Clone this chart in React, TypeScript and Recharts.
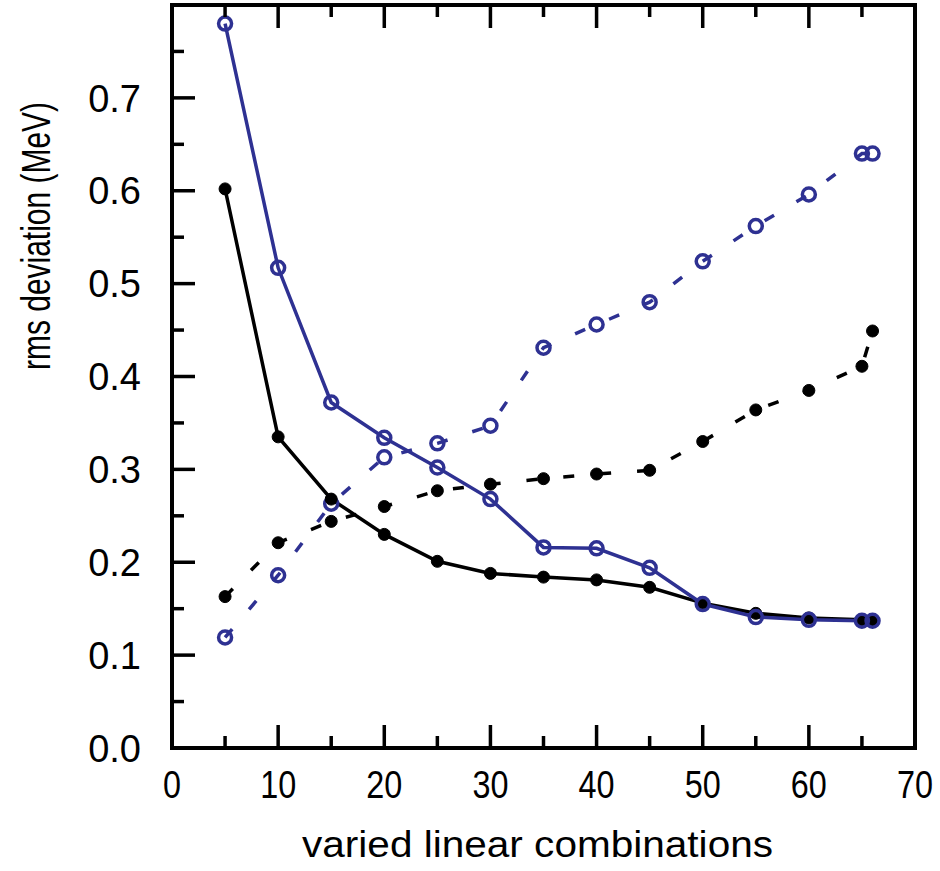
import React from 'react';
import { LineChart, Line, XAxis, YAxis, Label } from 'recharts';

const xValues = [5, 10, 15, 20, 25, 30, 35, 40, 45, 50, 55, 60, 65, 66];
const blackSolid = [0.602, 0.335, 0.268, 0.230, 0.201, 0.188, 0.184, 0.181, 0.173, 0.156, 0.145, 0.140, 0.138, 0.137];
const blueSolid = [0.780, 0.517, 0.372, 0.334, 0.302, 0.268, 0.216, 0.215, 0.194, 0.155, 0.141, 0.138, 0.137, 0.137];
const blackDashed = [0.163, 0.221, 0.244, 0.260, 0.277, 0.284, 0.290, 0.295, 0.299, 0.330, 0.364, 0.385, 0.411, 0.449];
const blueDashed = [0.119, 0.186, 0.263, 0.313, 0.328, 0.347, 0.431, 0.456, 0.480, 0.524, 0.562, 0.596, 0.640, 0.640];

const xTicks = [0, 5, 10, 15, 20, 25, 30, 35, 40, 45, 50, 55, 60, 65, 70];
const xTickLabels = [0, 10, 20, 30, 40, 50, 60, 70];
const yTicks = [0, 0.05, 0.1, 0.15, 0.2, 0.25, 0.3, 0.35, 0.4, 0.45, 0.5, 0.55, 0.6, 0.65, 0.7, 0.75, 0.8];
const yTickLabels = ['0.0', '0.1', '0.2', '0.3', '0.4', '0.5', '0.6', '0.7'];

const xTitle = 'varied linear combinations';
const yTitle = 'rms deviation (MeV)';

const data = xValues.map((x, i) => ({
  x,
  blackSolid: blackSolid[i],
  blueSolid: blueSolid[i],
  blackDashed: blackDashed[i],
  blueDashed: blueDashed[i],
}));

const BLUE = '#2E3192';
const FONT = '"Liberation Sans", Arial, Helvetica, sans-serif';
const MAJOR = 23;
const MINOR = 12;
const TICK_W = 3.5;

const isMajorX = (v: number) => v % 10 === 0;
const isMajorY = (v: number) => Math.abs(v * 10 - Math.round(v * 10)) < 1e-6;
const yLabelFor = (v: number) => {
  const idx = Math.round(v * 10);
  if (!isMajorY(v)) return null;
  return yTickLabels[idx] ?? null;
};

const BottomTick = (props: any) => {
  const { x, y, payload } = props;
  const v = payload.value;
  const major = isMajorX(v);
  return (
    <g>
      <line x1={x} x2={x} y1={y} y2={y - (major ? MAJOR : MINOR)} stroke="#000" strokeWidth={TICK_W} />
      {major && xTickLabels.includes(v) && (
        <text x={x} y={y + 50} textAnchor="middle" fontSize={39} fontFamily={FONT} fill="#000"
          textLength={String(v).length * 18} lengthAdjust="spacingAndGlyphs">
          {String(v)}
        </text>
      )}
    </g>
  );
};

const TopTick = (props: any) => {
  const { x, y, payload } = props;
  const major = isMajorX(payload.value);
  return <line x1={x} x2={x} y1={y} y2={y + (major ? MAJOR : MINOR)} stroke="#000" strokeWidth={TICK_W} />;
};

const LeftTick = (props: any) => {
  const { x, y, payload } = props;
  const v = payload.value;
  const major = isMajorY(v);
  const lab = yLabelFor(v);
  return (
    <g>
      <line x1={x} x2={x + (major ? MAJOR : MINOR)} y1={y} y2={y} stroke="#000" strokeWidth={TICK_W} />
      {lab && (
        <text x={x - 31} y={y} dy="0.36em" textAnchor="end" fontSize={38} fontFamily={FONT} fill="#000">
          {lab}
        </text>
      )}
    </g>
  );
};

const RightTick = (props: any) => {
  const { x, y, payload } = props;
  const major = isMajorY(payload.value);
  return <line x1={x} x2={x - (major ? MAJOR : MINOR)} y1={y} y2={y} stroke="#000" strokeWidth={TICK_W} />;
};

const XTitle = (props: any) => {
  const vb = props.viewBox || { x: 172, y: 748, width: 743, height: 123 };
  const cx = vb.x + vb.width / 2 - 6;
  return (
    <text x={cx} y={vb.y + 109} textAnchor="middle" fontSize={36} fontFamily={FONT} fill="#000"
      textLength={471} lengthAdjust="spacingAndGlyphs">
      {xTitle}
    </text>
  );
};

const YTitle = (props: any) => {
  const vb = props.viewBox || { x: 0, y: 5, width: 172, height: 743 };
  const cx = vb.x + 50;
  const cy = vb.y + 231;
  return (
    <text x={cx} y={cy} transform={`rotate(-90, ${cx}, ${cy})`} textAnchor="middle" fontSize={41}
      fontFamily={FONT} fill="#000" textLength={268} lengthAdjust="spacingAndGlyphs">
      {yTitle}
    </text>
  );
};

const axisLine = { stroke: '#000', strokeWidth: 4, strokeLinecap: 'square' as const };

export default function App() {
  return (
    <div style={{ position: 'absolute', left: 0, top: 0, background: '#fff' }}>
      <LineChart width={940} height={871} data={data} margin={{ top: 4, right: 24, left: 0, bottom: 0 }}>
        <XAxis
          xAxisId="bottom"
          dataKey="x"
          type="number"
          domain={[0, 70]}
          ticks={xTicks}
          interval={0}
          tickSize={0}
          tickMargin={0}
          tickLine={false}
          tick={BottomTick}
          axisLine={axisLine}
          height={123}
          orientation="bottom"
        >
          <Label content={XTitle} />
        </XAxis>
        <XAxis
          xAxisId="top"
          dataKey="x"
          type="number"
          domain={[0, 70]}
          ticks={xTicks}
          interval={0}
          tickSize={0}
          tickMargin={0}
          tickLine={false}
          tick={TopTick}
          axisLine={axisLine}
          height={1}
          orientation="top"
        />
        <YAxis
          yAxisId="left"
          type="number"
          domain={[0, 0.8]}
          ticks={yTicks}
          interval={0}
          tickSize={0}
          tickMargin={0}
          tickLine={false}
          tick={LeftTick}
          axisLine={axisLine}
          width={172}
          orientation="left"
        >
          <Label content={YTitle} />
        </YAxis>
        <YAxis
          yAxisId="right"
          type="number"
          domain={[0, 0.8]}
          ticks={yTicks}
          interval={0}
          tickSize={0}
          tickMargin={0}
          tickLine={false}
          tick={RightTick}
          axisLine={axisLine}
          width={1}
          orientation="right"
        />
        <Line
          xAxisId="bottom"
          yAxisId="left"
          type="linear"
          dataKey="blackDashed"
          stroke="#000"
          strokeWidth={3.5}
          strokeDasharray="11 26"
          dot={{ r: 6, fill: '#000', stroke: '#000', strokeWidth: 1, strokeDasharray: '' }}
          activeDot={false}
          isAnimationActive={false}
        />
        <Line
          xAxisId="bottom"
          yAxisId="left"
          type="linear"
          dataKey="blueDashed"
          stroke={BLUE}
          strokeWidth={3.5}
          strokeDasharray="11 26"
          dot={{ r: 6.5, fill: 'none', stroke: BLUE, strokeWidth: 3.5, strokeDasharray: '' }}
          activeDot={false}
          isAnimationActive={false}
        />
        <Line
          xAxisId="bottom"
          yAxisId="left"
          type="linear"
          dataKey="blackSolid"
          stroke="#000"
          strokeWidth={3.5}
          dot={{ r: 6, fill: '#000', stroke: '#000', strokeWidth: 1 }}
          activeDot={false}
          isAnimationActive={false}
        />
        <Line
          xAxisId="bottom"
          yAxisId="left"
          type="linear"
          dataKey="blueSolid"
          stroke={BLUE}
          strokeWidth={3.5}
          dot={{ r: 6.5, fill: 'none', stroke: BLUE, strokeWidth: 3.5 }}
          activeDot={false}
          isAnimationActive={false}
        />
      </LineChart>
    </div>
  );
}
